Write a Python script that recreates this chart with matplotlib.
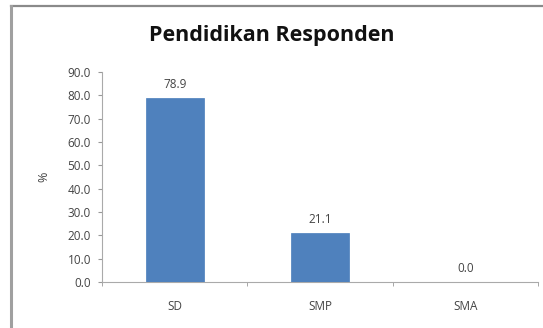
import matplotlib.pyplot as plt
from matplotlib.lines import Line2D

categories = ['SD', 'SMP', 'SMA']
values = [78.9, 21.1, 0.0]
yticks = [0, 10, 20, 30, 40, 50, 60, 70, 80, 90]

plt.rcParams['font.family'] = ['Open Sans', 'DejaVu Sans']

fig = plt.figure(figsize=(5.43, 3.28), dpi=100)
ax = fig.add_axes([0.188, 0.140, 0.803, 0.640])

x = range(len(categories))
ax.bar(x, values, width=0.4, color='#4F81BD', edgecolor='#4A7EBB', linewidth=0.5, zorder=3)

for xi, v in zip(x, values):
    ax.text(xi, v + 3, f'{v:.1f}', ha='center', va='bottom', fontsize=8.5, color='#444444')

ax.set_xlim(-0.5, len(categories) - 0.5)
ax.set_ylim(0, 90)
ax.set_yticks(yticks)
ax.set_yticklabels([f'{t:.1f}' for t in yticks], fontsize=8.5, color='#444444')
ax.set_xticks(list(x))
ax.set_xticklabels(categories, fontsize=8.5, color='#444444')
ax.tick_params(axis='x', length=0, pad=13)
ax.set_xticks([i - 0.5 for i in range(len(categories) + 1)], minor=True)
ax.tick_params(axis='x', which='minor', length=3, color='#999999', direction='out')
ax.tick_params(axis='y', length=3, color='#999999', pad=5)

for s in ['top', 'right']:
    ax.spines[s].set_visible(False)
for s in ['left', 'bottom']:
    ax.spines[s].set_color('#AAAAAA')
    ax.spines[s].set_linewidth(0.8)

ax.set_ylabel('%', fontsize=9, color='#444444', labelpad=12)

fig.text(0.501, 0.893, 'Pendidikan Responden', ha='center', va='center',
         fontsize=15.5, fontweight='bold', color='#111111')

# outer frame (top and left edges)
fig.add_artist(Line2D([11 / 543, 1.0], [1 - 5.5 / 328, 1 - 5.5 / 328], transform=fig.transFigure,
                      color='#8A8A8A', linewidth=1.6))
fig.add_artist(Line2D([10.5 / 543, 10.5 / 543], [0, 1 - 6 / 328], transform=fig.transFigure,
                      color='#A0A0A0', linewidth=2.2))

fig.savefig('out.png', dpi=100)
